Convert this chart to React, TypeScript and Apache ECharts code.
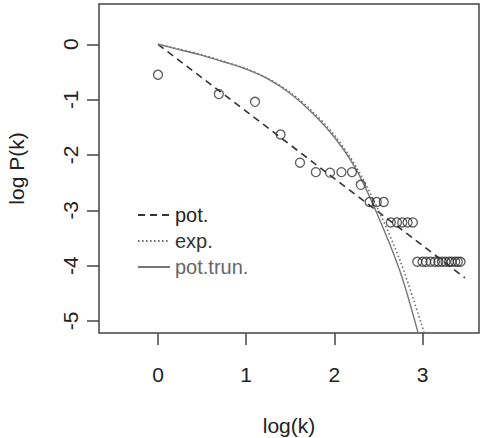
import React, { useEffect, useRef } from "react";
import * as echarts from "echarts";

// tick labels
const X_TICKS = [0, 1, 2, 3];
const Y_TICKS = [0, -1, -2, -3, -4, -5];

// observed points: log(k) vs log P(k)
const LOG_K = [0, 0.69, 1.1, 1.39, 1.61, 1.79, 1.95, 2.08, 2.2, 2.3, 2.4, 2.48, 2.56, 2.64, 2.71, 2.77, 2.83, 2.89, 2.94, 3.0, 3.04, 3.09, 3.14, 3.18, 3.22, 3.26, 3.3, 3.33, 3.37, 3.4, 3.43];
const LOG_P = [-0.55, -0.9, -1.04, -1.63, -2.14, -2.31, -2.32, -2.31, -2.31, -2.54, -2.85, -2.85, -2.85, -3.22, -3.22, -3.22, -3.22, -3.22, -3.93, -3.93, -3.93, -3.93, -3.93, -3.93, -3.93, -3.93, -3.93, -3.93, -3.93, -3.93, -3.93];

// fitted curves
const POT_X = [0, 3.48];
const POT_Y = [0, -4.22];
const EXP_X = [0, 0.25, 0.5, 0.75, 1.0, 1.25, 1.5, 1.75, 2.0, 2.25, 2.5, 2.75, 3.02];
const EXP_Y = [0, -0.09, -0.19, -0.31, -0.44, -0.62, -0.87, -1.21, -1.64, -2.22, -3.0, -3.93, -5.22];
const TRUN_X = [0, 0.25, 0.5, 0.75, 1.0, 1.25, 1.5, 1.75, 2.0, 2.25, 2.5, 2.75, 2.95];
const TRUN_Y = [0, -0.1, -0.2, -0.32, -0.45, -0.63, -0.89, -1.24, -1.68, -2.27, -3.12, -4.13, -5.22];

const zip = (xs: number[], ys: number[]) => xs.map((x, i) => [x, ys[i]]);

const FONT = "Liberation Sans, Arial, sans-serif";

export default function App() {
  const ref = useRef<HTMLDivElement>(null);
  useEffect(() => {
    if (!ref.current) return;
    const chart = echarts.init(ref.current, null, { renderer: "svg" });
    chart.setOption({
      animation: false,
      backgroundColor: "#fff",
      grid: {
        left: 99,
        top: 4,
        right: 1,
        bottom: 105,
        outerBoundsMode: "none",
        containLabel: false,
        show: true,
        borderColor: "#444",
        borderWidth: 1.5,
        backgroundColor: "transparent",
      },
      legend: {
        orient: "vertical",
        left: 137,
        top: 205,
        padding: 0,
        itemWidth: 32,
        itemHeight: 14,
        itemGap: 6,
        itemStyle: { opacity: 0 },
        textStyle: { fontSize: 20, color: "#222", fontFamily: FONT },
        data: [
          { name: "pot." },
          { name: "exp.", textStyle: { color: "#333" } },
          { name: "pot.trun.", textStyle: { color: "#666" } },
        ],
      },
      xAxis: {
        type: "value",
        min: -0.669,
        max: 3.64,
        axisLine: { show: false, onZero: false },
        splitLine: { show: false },
        axisTick: {
          show: true,
          customValues: X_TICKS,
          length: 12,
          lineStyle: { color: "#444", width: 1.5 },
        },
        axisLabel: {
          customValues: X_TICKS,
          margin: 31,
          fontSize: 21,
          color: "#222",
          fontFamily: FONT,
        },
        name: "log(k)",
        nameLocation: "middle",
        nameGap: 82,
        nameTextStyle: { fontSize: 21, color: "#222", fontFamily: FONT },
      },
      yAxis: {
        type: "value",
        min: -5.218,
        max: 0.728,
        axisLine: { show: false, onZero: false },
        splitLine: { show: false },
        axisTick: {
          show: true,
          customValues: Y_TICKS,
          length: 12,
          lineStyle: { color: "#444", width: 1.5 },
        },
        axisLabel: {
          customValues: Y_TICKS,
          rotate: 90,
          margin: 18,
          fontSize: 21,
          color: "#222",
          fontFamily: FONT,
        },
        name: "log P(k)",
        nameLocation: "middle",
        nameGap: 72,
        nameTextStyle: { fontSize: 21, color: "#222", fontFamily: FONT },
      },
      series: [
        {
          name: "data",
          type: "scatter",
          data: zip(LOG_K, LOG_P),
          symbol: "circle",
          symbolSize: 9,
          itemStyle: { color: "rgba(0,0,0,0)", borderColor: "#333", borderWidth: 1.3 },
          z: 5,
        },
        {
          name: "pot.",
          type: "line",
          data: zip(POT_X, POT_Y),
          symbol: "none",
          lineStyle: { color: "#333", width: 1.6, type: [7, 5] },
          itemStyle: { color: "#333" },
        },
        {
          name: "exp.",
          type: "line",
          data: zip(EXP_X, EXP_Y),
          symbol: "none",
          smooth: 0.3,
          lineStyle: { color: "#666", width: 1.5, type: [1.5, 2.5] },
          itemStyle: { color: "#666" },
        },
        {
          name: "pot.trun.",
          type: "line",
          data: zip(TRUN_X, TRUN_Y),
          symbol: "none",
          smooth: 0.3,
          lineStyle: { color: "#777", width: 1.4 },
          itemStyle: { color: "#777" },
        },
      ],
    });
    return () => chart.dispose();
  }, []);
  return (
    <div
      ref={ref}
      style={{ position: "fixed", left: 0, top: 0, width: 480, height: 438, background: "#fff" }}
    />
  );
}
